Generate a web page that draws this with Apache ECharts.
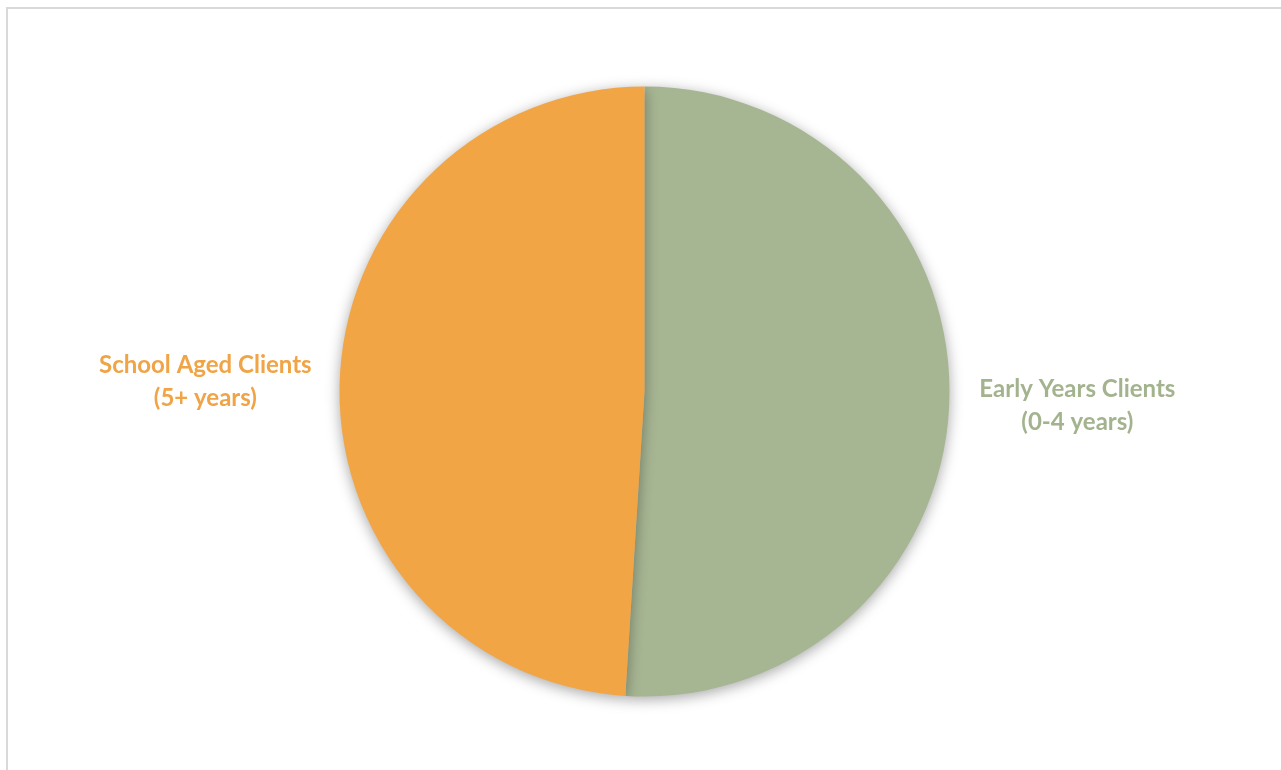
<!DOCTYPE html>
<html>
<head>
<meta charset="utf-8">
<script src="https://cdn.jsdelivr.net/npm/echarts@6/dist/echarts.min.js"></script>
<style>
html,body{margin:0;padding:0;background:#fff;overflow:hidden;}
#chart{width:1281px;height:770px;}
</style>
</head>
<body>
<div id="chart"></div>
<script>
const categories = ['Early Years Clients\n(0-4 years)', 'School Aged Clients\n(5+ years)'];
const values = [51, 49];
const colors = ['#A6B592', '#F2A545'];
const labelColors = ['#A3B38E', '#F0A446'];

const chart = echarts.init(document.getElementById('chart'), null, {renderer: 'canvas'});
chart.setOption({
  backgroundColor: '#ffffff',
  animation: false,
  graphic: [{
    type: 'rect',
    shape: {x: 7, y: 8, width: 1400, height: 900},
    style: {fill: 'none', stroke: '#d9d9d9', lineWidth: 2},
    silent: true,
    z: -10
  }],
  series: [{
    type: 'pie',
    center: [644.5, 391.5],
    radius: 305,
    startAngle: 90,
    clockwise: true,
    avoidLabelOverlap: false,
    data: categories.map((c, i) => ({
      name: c,
      value: values[i],
      itemStyle: {color: colors[i]},
      label: {color: labelColors[i]}
    })),
    itemStyle: {
      borderWidth: 0,
      shadowBlur: 14,
      shadowColor: 'rgba(0,0,0,0.35)',
      shadowOffsetY: 3
    },
    label: {
      show: true,
      position: 'outside',
      formatter: '{b}',
      fontFamily: 'Lato',
      fontWeight: 'bold',
      fontSize: 24,
      lineHeight: 33,
      align: 'center'
    },
    labelLine: {show: false, length: 15, length2: 12},
    labelLayout: function (p) {
      const r = p.labelRect;
      return {
        x: r.x + r.width / 2 + (p.dataIndex === 0 ? -2 : 4),
        y: r.y + r.height / 2 + (p.dataIndex === 0 ? 4 : 0),
        align: 'center',
        verticalAlign: 'middle'
      };
    },
    emphasis: {disabled: true}
  }]
});
</script>
</body>
</html>
